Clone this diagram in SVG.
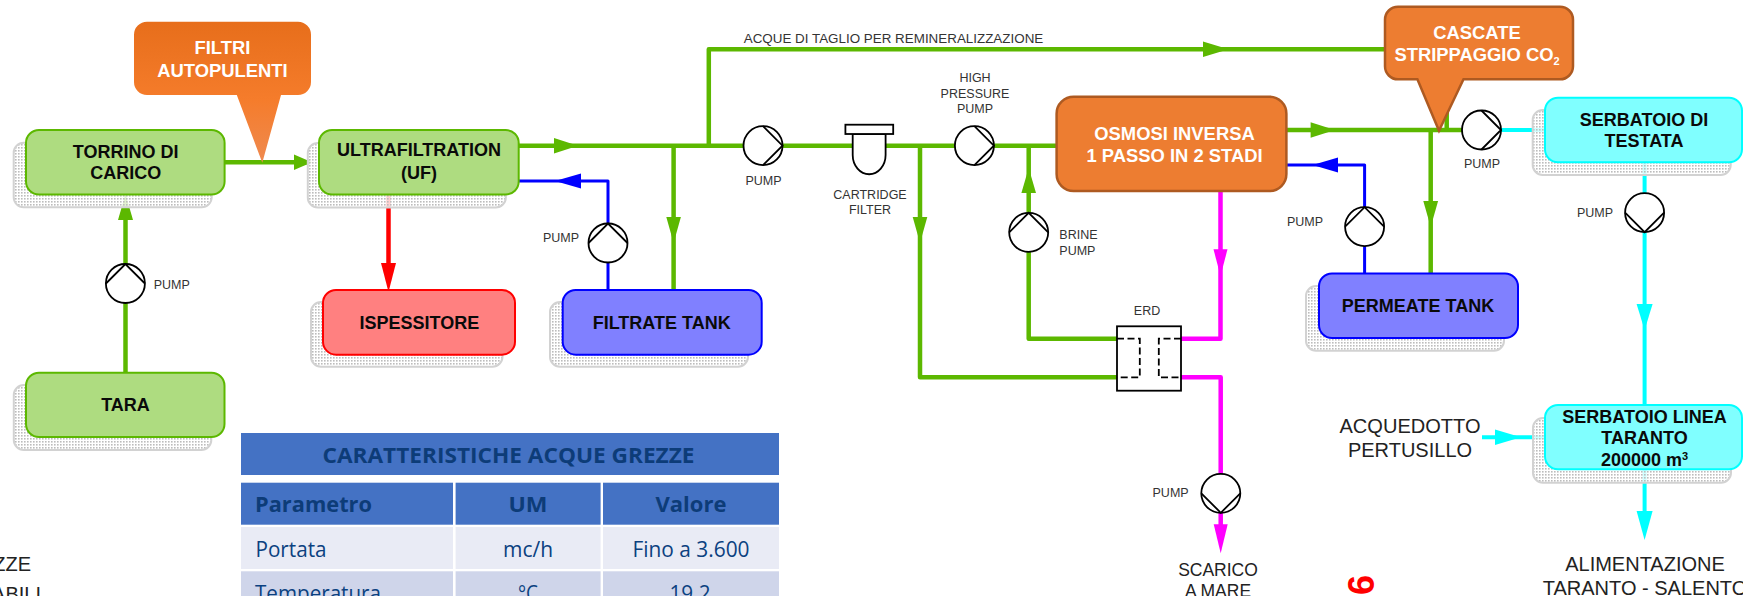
<svg xmlns="http://www.w3.org/2000/svg" width="1743" height="596" viewBox="0 0 1743 596">
<style>
text{font-family:"Liberation Sans",Arial,sans-serif}
.n{font-size:18px;font-weight:700;fill:#0a0a0a;text-anchor:middle}
.w{font-size:18.400px;font-weight:700;fill:#fff;text-anchor:middle}
.s{font-size:12.500px;fill:#333;text-anchor:middle}
.l{font-size:20px;fill:#222;text-anchor:middle}
.t{font-family:"Open Sans","Noto Sans",sans-serif;fill:#0b4180;text-anchor:middle;font-size:22px}
.th{font-family:"Open Sans","Noto Sans",sans-serif;fill:#0d3c78;text-anchor:middle;font-size:22px;font-weight:700}
.c{fill:none;stroke-linejoin:round}
.g{stroke:#5CB800;stroke-width:4.500}
.b{stroke:#0000FF;stroke-width:3}
.r{stroke:#FF0000;stroke-width:4.500}
.m{stroke:#FF00FF;stroke-width:4.500}
.y{stroke:#00FFFF;stroke-width:4}
.fg{fill:#5CB800}.fb{fill:#0000FF}.fr{fill:#FF0000}.fm{fill:#FF00FF}.fy{fill:#00FFFF}
.shadow{fill:url(#dots);stroke:#d2d2d2;stroke-width:2}
.green{fill:#AEDC80;stroke:#5CB800;stroke-width:2}
.red{fill:#FF8080;stroke:#FF0000;stroke-width:2}
.blue{fill:#8080FF;stroke:#0000FF;stroke-width:2}
.cyan{fill:#80FFFF;stroke:#00FFFF;stroke-width:2}
.orange{fill:#ED7D31;stroke:#AE5A21;stroke-width:2.500}
.sym{fill:#fff;stroke:#000;stroke-width:1.800}
.pl{fill:none;stroke:#000;stroke-width:1.800}
</style>
<defs>
<pattern id="dots" width="3" height="3" patternUnits="userSpaceOnUse">
<rect width="3" height="3" fill="#fff" fill-opacity="0.82"/>
<rect width="1.600" height="1.600" fill="#bcbcbc"/>
</pattern>
<linearGradient id="og" gradientUnits="userSpaceOnUse" x1="0" y1="22" x2="0" y2="163">
<stop offset="0" stop-color="#E76E1B"/><stop offset="0.55" stop-color="#F57C2B"/><stop offset="1" stop-color="#EF8A50"/>
</linearGradient>
<g id="pump">
<circle class="sym" r="19.500"/>
<path class="pl" d="M0 -19.500 L19.500 0 L0 19.500"/>
</g>
</defs>
<rect width="1743" height="596" fill="#fff"/>

<g id="connectors">
<path class="c g" d="M224 162.300 H310"/><polygon class="fg" points="294,154.500 294,170 312,162.300"/>
<path class="c g" d="M125.500 372.700 V215"/><polygon class="fg" points="118,220 133,220 125.500,194"/>
<path class="c g" d="M518 145.700 H1057"/><polygon class="fg" points="554,138 554,153.500 578,145.700"/>
<path class="c g" d="M708.800 145.700 V49.300 H1446.700 V130"/><polygon class="fg" points="1203,41.500 1203,57 1228.500,49.300"/>
<path class="c g" d="M673.600 145.700 V290"/><polygon class="fg" points="666.300,217 680.900,217 673.600,243"/>
<path class="c g" d="M920 145.700 V377.300 H1117"/><polygon class="fg" points="912.700,217 927.300,217 920,243"/>
<path class="c g" d="M1028.700 145.700 V338.700 H1117"/><polygon class="fg" points="1021.400,193 1036,193 1028.700,168"/>
<path class="c g" d="M1286 130 H1465"/><polygon class="fg" points="1310.600,122.300 1310.600,137.700 1335,130"/>
<path class="c g" d="M1430.700 130 V274"/><polygon class="fg" points="1423.300,201 1438.100,201 1430.700,227"/>
<path class="c r" d="M388.500 194 V270"/><polygon class="fr" points="381,263 396,263 388.500,292"/>
<path class="c b" d="M608 290 V181 H518"/><polygon class="fb" points="581,173.500 581,188.500 555,181"/>
<path class="c b" d="M1364.600 274 V165 H1286"/><polygon class="fb" points="1338,157.500 1338,172.500 1312.600,165"/>
<path class="c m" d="M1220.500 191 V338.700 H1181"/><polygon class="fm" points="1213.500,249.300 1227.500,249.300 1220.500,276"/>
<path class="c m" d="M1181 377.300 H1220.700 V530"/><polygon class="fm" points="1213.700,524.300 1227.700,524.300 1220.700,553.300"/>
<path class="c y" d="M1498 130 H1545"/>
<path class="c y" d="M1644.600 162 V405"/><polygon class="fy" points="1636.600,304 1652.600,304 1644.600,330"/>
<path class="c y" d="M1644.600 469 V520"/><polygon class="fy" points="1636.600,511 1652.600,511 1644.600,540"/>
<path class="c y" d="M1482 437.300 H1546"/><polygon class="fy" points="1495,429.500 1495,445 1521,437.300"/>
</g>

<g id="node-torrino"><rect class="shadow" x="13.700" y="142.700" width="198" height="64.600" rx="10"/><rect class="green" x="26" y="130" width="198.600" height="64.500" rx="13"/><text class="n" x="125.700" y="158.300">TORRINO DI</text><text class="n" x="125.700" y="179.300">CARICO</text></g>
<g id="node-uf"><rect class="shadow" x="307.800" y="143" width="198" height="64.500" rx="10"/><rect class="green" x="319" y="130" width="199.700" height="64.500" rx="13"/><text class="n" x="419" y="156.300">ULTRAFILTRATION</text><text class="n" x="419" y="179">(UF)</text></g>
<g id="node-filtri"><path d="M147 21.700 H298 A13 13 0 0 1 311 34.700 V82 A13 13 0 0 1 298 95 H281 L262.300 162.700 L236.800 95 H147 A13 13 0 0 1 134 82 V34.700 A13 13 0 0 1 147 21.700 Z" fill="url(#og)"/><text class="w" x="222.400" y="54">FILTRI</text><text class="w" x="222.400" y="77">AUTOPULENTI</text></g>
<g id="node-ispessitore"><rect class="shadow" x="311" y="302" width="191.500" height="64.700" rx="10"/><rect class="red" x="323" y="290" width="192" height="64.700" rx="13"/><text class="n" x="419.400" y="328.600">ISPESSITORE</text></g>
<g id="node-filtrate"><rect class="shadow" x="550" y="302" width="198" height="64.700" rx="10"/><rect class="blue" x="562.700" y="290" width="199" height="64.700" rx="13"/><text class="n" x="661.700" y="328.600">FILTRATE TANK</text></g>
<g id="node-tara"><rect class="shadow" x="13.800" y="385" width="197.500" height="65" rx="10"/><rect class="green" x="26" y="372.700" width="198.500" height="64.300" rx="13"/><text class="n" x="125.500" y="411.300">TARA</text></g>
<g id="node-osmosi"><rect class="orange" x="1056.600" y="96.700" width="229.800" height="94.300" rx="17"/><text class="w" x="1174.500" y="140">OSMOSI INVERSA</text><text class="w" x="1174.500" y="161.600">1 PASSO IN 2 STADI</text></g>
<g id="node-cascate"><path class="orange" d="M1398 6.700 H1560 A13 13 0 0 1 1573 19.700 V66.300 A13 13 0 0 1 1560 79.300 H1463.500 L1439 130.700 L1417.400 79.300 H1398 A13 13 0 0 1 1385 66.300 V19.700 A13 13 0 0 1 1398 6.700 Z"/><text class="w" x="1477" y="38.600">CASCATE</text><text class="w" x="1477" y="60.600">STRIPPAGGIO CO<tspan font-size="11" dy="4">2</tspan></text></g>
<g id="node-permeate"><rect class="shadow" x="1306" y="286" width="198" height="64.700" rx="10"/><rect class="blue" x="1319" y="273.500" width="199" height="64.500" rx="13"/><text class="n" x="1418" y="312.300">PERMEATE TANK</text></g>
<g id="node-testata"><rect class="shadow" x="1532.700" y="110" width="198" height="65" rx="10"/><rect class="cyan" x="1545" y="97.700" width="197" height="64.600" rx="13"/><text class="n" x="1644" y="126">SERBATOIO DI</text><text class="n" x="1644" y="147">TESTATA</text></g>
<g id="node-linea"><rect class="shadow" x="1533" y="418" width="198" height="64.700" rx="10"/><rect class="cyan" x="1545" y="405" width="197" height="64.300" rx="13"/><text class="n" x="1644.500" y="422.600">SERBATOIO LINEA</text><text class="n" x="1644.500" y="444">TARANTO</text><text class="n" x="1644.500" y="465.600">200000 m<tspan font-size="11" dy="-6">3</tspan></text></g>

<g id="pump-1"><use href="#pump" transform="translate(125.400 283.500) rotate(-90)"/><text class="s" x="171.700" y="288.500">PUMP</text></g>
<g id="pump-2"><use href="#pump" transform="translate(608 243) rotate(-90)"/><text class="s" x="561" y="242">PUMP</text></g>
<g id="pump-3"><use href="#pump" transform="translate(763 145.700)"/><text class="s" x="763.500" y="184.500">PUMP</text></g>
<g id="pump-hp"><use href="#pump" transform="translate(974.400 145.700)"/><text class="s" x="975" y="81.500">HIGH</text><text class="s" x="975" y="98">PRESSURE</text><text class="s" x="975" y="113">PUMP</text></g>
<g id="pump-brine"><use href="#pump" transform="translate(1028.700 232.300) rotate(-90)"/><text class="s" x="1059.300" y="238.500" style="text-anchor:start">BRINE</text><text class="s" x="1059.300" y="254.500" style="text-anchor:start">PUMP</text></g>
<g id="pump-perm"><use href="#pump" transform="translate(1364.600 226.700) rotate(-90)"/><text class="s" x="1305" y="225.500">PUMP</text></g>
<g id="pump-out"><use href="#pump" transform="translate(1481.500 130)"/><text class="s" x="1482" y="168">PUMP</text></g>
<g id="pump-testata"><use href="#pump" transform="translate(1644.600 212.700) rotate(90)"/><text class="s" x="1595" y="216.500">PUMP</text></g>
<g id="pump-scarico"><use href="#pump" transform="translate(1220.800 493.300) rotate(90)"/><text class="s" x="1170.600" y="496.500">PUMP</text></g>

<g id="cartridge-filter"><path class="sym" d="M852.700 134 V155 A16.450 19.300 0 0 0 885.600 155 V134 Z"/><rect class="sym" x="845.400" y="124.700" width="47.800" height="9.300"/><text class="s" x="870" y="198.500">CARTRIDGE</text><text class="s" x="870" y="213.500">FILTER</text></g>
<g id="erd"><rect class="sym" x="1117" y="326.300" width="64" height="64.400"/><path class="pl" stroke-dasharray="7 3.500" d="M1117 338.700 H1139.800 V377.300 H1117"/><path class="pl" stroke-dasharray="7 3.500" d="M1181 338.700 H1158.800 V377.300 H1181"/><text class="s" x="1147" y="314.800">ERD</text></g>

<text class="s" x="893.500" y="43" textLength="299.500" lengthAdjust="spacingAndGlyphs">ACQUE DI TAGLIO PER REMINERALIZZAZIONE</text>
<text class="l" x="1410" y="433" textLength="141" lengthAdjust="spacingAndGlyphs">ACQUEDOTTO</text>
<text class="l" x="1410" y="457">PERTUSILLO</text>
<text class="l" style="font-size:17.500px" x="1218" y="575.500">SCARICO</text>
<text class="l" style="font-size:17.500px" x="1218" y="596.500">A MARE</text>
<text class="l" x="1645" y="571">ALIMENTAZIONE</text>
<text class="l" x="1645" y="595">TARANTO - SALENTO</text>
<text class="l" x="31" y="571" style="text-anchor:end">ZZE</text>
<text class="l" x="41" y="601" style="text-anchor:end">ABILI</text>
<text transform="translate(1374 575) rotate(-90)" font-size="36" font-weight="700" fill="#FF0000" text-anchor="end">06</text>

<g id="table">
<rect x="241" y="433" width="538" height="42" fill="#4472C4"/>
<rect x="241" y="482.700" width="212" height="42" fill="#4472C4"/><rect x="455.600" y="482.700" width="145" height="42" fill="#4472C4"/><rect x="603" y="482.700" width="176" height="42" fill="#4472C4"/>
<rect x="241" y="527" width="212" height="42" fill="#E9EBF5"/><rect x="455.600" y="527" width="145" height="42" fill="#E9EBF5"/><rect x="603" y="527" width="176" height="42" fill="#E9EBF5"/>
<rect x="241" y="571.300" width="212" height="25" fill="#CFD5EA"/><rect x="455.600" y="571.300" width="145" height="25" fill="#CFD5EA"/><rect x="603" y="571.300" width="176" height="25" fill="#CFD5EA"/>
<text class="th" x="508.500" y="463" textLength="372" lengthAdjust="spacingAndGlyphs">CARATTERISTICHE ACQUE GREZZE</text>
<text class="th" x="313.500" y="511.500" textLength="117" lengthAdjust="spacingAndGlyphs">Parametro</text>
<text class="th" x="528" y="511.500" textLength="39" lengthAdjust="spacingAndGlyphs">UM</text>
<text class="th" x="691" y="511.500" textLength="71" lengthAdjust="spacingAndGlyphs">Valore</text>
<text class="t" x="291" y="556.500" textLength="71" lengthAdjust="spacingAndGlyphs">Portata</text>
<text class="t" x="528" y="556.500" textLength="50" lengthAdjust="spacingAndGlyphs">mc/h</text>
<text class="t" x="691" y="556.500" textLength="117" lengthAdjust="spacingAndGlyphs">Fino a 3.600</text>
<text class="t" x="318" y="601" textLength="126" lengthAdjust="spacingAndGlyphs">Temperatura</text>
<text class="t" x="528" y="601" textLength="20" lengthAdjust="spacingAndGlyphs">°C</text>
<text class="t" x="690" y="601" textLength="41" lengthAdjust="spacingAndGlyphs">19.2</text>
</g>
</svg>
